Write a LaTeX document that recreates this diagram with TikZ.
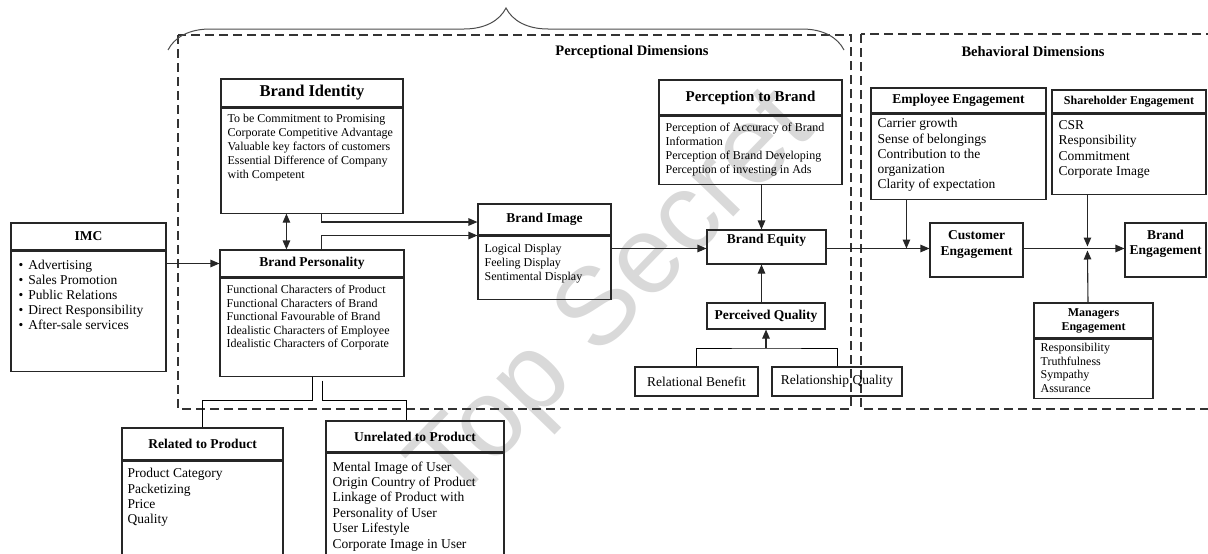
\documentclass[tikz,border=0pt]{standalone}
\usepackage{fontspec}
\setmainfont{Liberation Serif}
\newfontfamily\wmfont{Liberation Sans}
\usetikzlibrary{arrows.meta,decorations.pathreplacing}

\tikzset{
  box/.style={draw=black!85, line width=1.1pt, inner sep=0pt},
  ttl/.style={font=\bfseries\fontsize{13.5}{15.5}\selectfont, align=center},
  txt/.style={anchor=north west, inner sep=0pt, align=left, font=\fontsize{12}{14}\selectfont},
  txtl/.style={anchor=north west, inner sep=0pt, align=left, font=\fontsize{13.5}{15.3}\selectfont},
  arr/.style={-{Triangle[length=9pt,width=7.5pt]}, line width=1.1pt, draw=black!85},
  dsh/.style={line width=1.6pt, draw=black!80, dash pattern=on 9pt off 5pt},
}

\begin{document}
\begin{tikzpicture}[x=1pt,y=-1pt]
\useasboundingbox (0,0) rectangle (1208,554);
\clip (0,0) rectangle (1208,554);
% watermark
\node[text=black!15, font=\wmfont\fontsize{110}{110}\selectfont, rotate=46, inner sep=0pt] (wm) at (616,300) {Top Secret};

% the two dimension frames
\draw[dsh] (178,35) rectangle (851,409);
\draw[dsh] (861,34) rectangle (1230,409);
\draw[decorate, decoration={brace,amplitude=42pt}, line width=1pt, draw=black!70] (168,50) -- (844,50);
\node[font=\bfseries\fontsize{14.5}{16}\selectfont] (pdl) at (632,52) {Perceptional Dimensions};
\node[font=\bfseries\fontsize{14.5}{16}\selectfont] (bdl) at (1033,52) {Behavioral Dimensions};

% IMC
\node[box, ttl, minimum width=155pt, minimum height=27pt] (imcT) at (88.5,236.5) {IMC};
\node[box, minimum width=155pt, minimum height=120pt, anchor=north] (imc) at (imcT.south) {};
\node[txtl, font=\fontsize{13.5}{15}\selectfont] (imcB) at ([xshift=8pt,yshift=-9.8pt]imc.north west)
  {\textbullet\hspace{5pt}Advertising\\ \textbullet\hspace{5pt}Sales Promotion\\ \textbullet\hspace{5pt}Public Relations\\
   \textbullet\hspace{5pt}Direct Responsibility\\ \textbullet\hspace{5pt}After-sale services};

% brand identity / personality
\node[box, ttl, font=\bfseries\fontsize{16.5}{18}\selectfont, minimum width=182pt, minimum height=28pt] (bidT) at (312,93) {Brand Identity};
\node[box, minimum width=182pt, minimum height=105pt, anchor=north] (bid) at (bidT.south) {};
\node[txt] (bidB) at ([xshift=7pt,yshift=-6.3pt]bid.north west)
  {To be Commitment to Promising\\ Corporate Competitive Advantage\\ Valuable key factors of customers\\
   Essential Difference of Company\\ with Competent};

\node[box, ttl, minimum width=184pt, minimum height=27pt] (bpT) at (312,263.5) {Brand Personality};
\node[box, minimum width=184pt, minimum height=98pt, anchor=north] (bp) at (bpT.south) {};
\node[txt, font=\fontsize{12}{13.5}\selectfont] (bpB) at ([xshift=7pt,yshift=-7.3pt]bp.north west)
  {Functional Characters of Product\\ Functional Characters of Brand\\ Functional Favourable of Brand\\
   Idealistic Characters of Employee\\ Idealistic Characters of Corporate};

% related / unrelated
\node[box, ttl, minimum width=161pt, minimum height=32pt] (rpT) at (202.5,444) {Related to Product};
\node[box, minimum width=161pt, minimum height=120pt, anchor=north] (rp) at (rpT.south) {};
\node[txtl] (rpB) at ([xshift=6pt,yshift=-7.8pt]rp.north west)
  {Product Category\\ Packetizing\\ Price\\ Quality};

\node[box, ttl, minimum width=178pt, minimum height=31pt] (upT) at (415,436.5) {Unrelated to Product};
\node[box, minimum width=178pt, minimum height=128pt, anchor=north] (up) at (upT.south) {};
\node[txtl, font=\fontsize{13.5}{15.4}\selectfont] (upB) at ([xshift=7pt,yshift=-8.8pt]up.north west)
  {Mental Image of User\\ Origin Country of Product\\ Linkage of Product with\\ Personality of User\\
   User Lifestyle\\ Corporate Image in User};

% brand image
\node[box, ttl, minimum width=133pt, minimum height=31pt] (imgT) at (544.5,219.5) {Brand Image};
\node[box, minimum width=133pt, minimum height=63pt, anchor=north] (img) at (imgT.south) {};
\node[txt] (imgB) at ([xshift=7pt,yshift=-8.3pt]img.north west)
  {Logical Display\\ Feeling Display\\ Sentimental Display};

% perception, equity, quality
\node[box, ttl, font=\bfseries\fontsize{15}{17}\selectfont, minimum width=183pt, minimum height=35pt] (ptbT) at (750.5,97.5) {Perception to Brand};
\node[box, minimum width=183pt, minimum height=68pt, anchor=north] (ptb) at (ptbT.south) {};
\node[txt] (ptbB) at ([xshift=7pt,yshift=-7.3pt]ptb.north west)
  {Perception of Accuracy of Brand\\ Information\\ Perception of Brand Developing\\ Perception of investing in Ads};

\node[box, minimum width=119pt, minimum height=34pt] (eq) at (766.5,247) {};
\node[ttl] (eqT) at ([yshift=-11pt]eq.north) {Brand Equity};
\node[box, ttl, minimum width=118pt, minimum height=26pt] (pq) at (766,316) {Perceived Quality};
\node[box, font=\fontsize{13.5}{15}\selectfont, minimum width=123pt, minimum height=29pt] (rb) at (696.5,381.5) {Relational Benefit};
\node[box, font=\fontsize{13.5}{15}\selectfont, minimum width=130pt, minimum height=29pt] (rq) at (837,381.5) {Relationship Quality};

% behavioral side
\node[box, ttl, minimum width=175pt, minimum height=25pt] (eeT) at (958.5,100.5) {Employee Engagement};
\node[box, minimum width=175pt, minimum height=85pt, anchor=north] (ee) at (eeT.south) {};
\node[txtl, font=\fontsize{13.5}{15.25}\selectfont] (eeB) at ([xshift=7pt,yshift=-4.8pt]ee.north west)
  {Carrier growth\\ Sense of belongings\\ Contribution to the\\ organization\\ Clarity of expectation};

\node[box, ttl, font=\bfseries\fontsize{12}{14}\selectfont, minimum width=154pt, minimum height=23pt] (seT) at (1129,101.5) {Shareholder Engagement};
\node[box, minimum width=154pt, minimum height=80pt, anchor=north] (se) at (seT.south) {};
\node[txtl] (seB) at ([xshift=7pt,yshift=-6.8pt]se.north west)
  {CSR\\ Responsibility\\ Commitment\\ Corporate Image};

\node[box, minimum width=93pt, minimum height=54pt] (ce) at (976.5,250) {};
\node[ttl, anchor=north] (ceT) at ([yshift=-5pt]ce.north) {Customer\\ Engagement};
\node[box, minimum width=81pt, minimum height=54pt] (be) at (1165.5,250) {};
\node[ttl, anchor=north] (beT) at ([yshift=-4pt]be.north) {Brand\\ Engagement};

\node[box, ttl, font=\bfseries\fontsize{12}{14}\selectfont, minimum width=119pt, minimum height=35pt] (mgT) at (1093.5,320.5) {Managers\\ Engagement};
\node[box, minimum width=119pt, minimum height=59pt, anchor=north] (mg) at (mgT.south) {};
\node[txt, font=\fontsize{12}{13.7}\selectfont] (mgB) at ([xshift=7pt,yshift=-4.3pt]mg.north west)
  {Responsibility\\ Truthfulness\\ Sympathy\\ Assurance};

% connectors
\draw[arr] (imc.east |- bpT.west) -- (bpT.west);
\draw[{Triangle[length=9pt,width=7.5pt]}-{Triangle[length=9pt,width=7.5pt]}, line width=1.1pt, draw=black!85]
  ([xshift=66pt]bid.south west) -- ([xshift=66pt]bid.south west |- bpT.north);
\draw[arr] ([xshift=101pt]bid.south west) |- ([yshift=-2.5pt]imgT.west);
\draw[arr] ([xshift=102pt]bpT.north west) |- ([yshift=-16pt]imgT.west);
\draw ([xshift=93pt]bp.south west) |- ([yshift=27pt]rpT.north) -- (rpT.north);
\draw ([xshift=103pt,yshift=-4pt]bp.south west) |- ([xshift=-9pt,yshift=20pt]upT.north) -- ([xshift=-9pt]upT.north);
\draw[arr] ([yshift=-1.5pt]img.east |- eq.west) -- ([yshift=-1.5pt]eq.west);
\draw[arr] ([xshift=-5pt]eq.north |- ptb.south) -- ([xshift=-5pt]eq.north);
\draw[arr] ([xshift=-4.5pt]pq.north) -- ([xshift=-4.5pt]pq.north |- eq.south);
\coordinate (rj) at (766,348);
\draw (rb.north) |- (rj) -| (rq.north);
\draw[arr] (rj) -- (rj |- pq.south);
\draw[arr] ([yshift=-1.5pt]eq.east) -- ([yshift=-1.5pt]eq.east -| ce.west);
\draw[arr] ([xshift=36pt]ee.south west) -- ([xshift=36pt,yshift=1.5pt]ee.south west |- ce.west);
\draw[arr] ([yshift=1.5pt]ce.east) -- ([yshift=1.5pt]ce.east -| be.west);
\coordinate (bj) at ([xshift=36pt,yshift=1.5pt]se.south west |- ce.east);
\draw[arr] ([xshift=36pt]se.south west) -- ([yshift=2pt]bj);
\draw[arr] ([xshift=-5.5pt]mgT.north) -- ([yshift=-2pt]bj);
\end{tikzpicture}
\end{document}
